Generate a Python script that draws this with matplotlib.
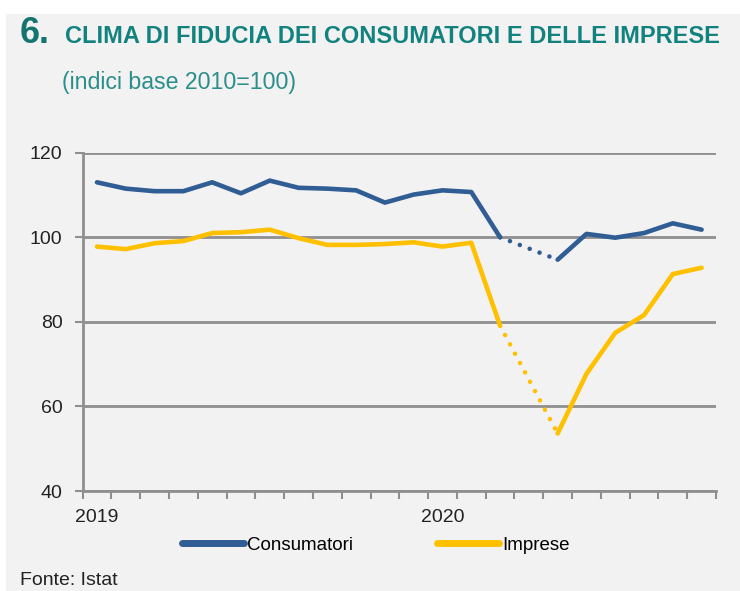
import numpy as np
import matplotlib
matplotlib.use("Agg")
import matplotlib.pyplot as plt
from matplotlib import font_manager
from matplotlib.patches import Rectangle
from matplotlib.lines import Line2D

# === DATA ===
months = ['gen 19', 'feb 19', 'mar 19', 'apr 19', 'mag 19', 'giu 19', 'lug 19', 'ago 19',
          'set 19', 'ott 19', 'nov 19', 'dic 19', 'gen 20', 'feb 20', 'mar 20', 'apr 20',
          'mag 20', 'giu 20', 'lug 20', 'ago 20', 'set 20', 'ott 20']
consumatori = [113.0, 111.5, 110.9, 110.9, 113.0, 110.4, 113.4, 111.7, 111.5, 111.1, 108.2,
               110.1, 111.1, 110.7, 100.0, np.nan, 94.7, 100.8, 99.9, 101.0, 103.3, 101.8]
imprese = [97.8, 97.2, 98.6, 99.1, 101.0, 101.2, 101.8, 99.8, 98.2, 98.2, 98.4,
           98.8, 97.8, 98.7, 79.1, np.nan, 53.6, 67.7, 77.4, 81.6, 91.3, 92.8]
year_labels = ['2019', '2020']
year_pos = [0, 12]
y_ticks = [40, 60, 80, 100, 120]

# colours
BLUE = '#305d94'
YELLOW = '#ffc000'
GRID = '#8f8f8f'
TEAL = '#12827f'
BG = '#f2f2f2'

# narrow font if we have one
names = {f.name for f in font_manager.fontManager.ttflist}
if 'Liberation Sans Narrow' in names:
    FONT = 'Liberation Sans Narrow'
else:
    FONT = 'Liberation Sans'
plt.rcParams['font.family'] = [FONT, 'DejaVu Sans']

W, H = 740, 591
fig = plt.figure(figsize=(W / 100, H / 100), dpi=100, facecolor='white')
fig.patches.append(Rectangle((6 / W, 0), 1 - 6 / W, 1 - 14 / H, transform=fig.transFigure,
                             facecolor=BG, edgecolor='none', zorder=-10))

ax = fig.add_axes([82.6 / W, 100 / H, (716 - 82.6) / W, (491 - 152.7) / H])
ax.set_facecolor(BG)

x = np.arange(len(months)) + 0.5
cons = np.array(consumatori)
imp = np.array(imprese)

# dotted bridge over the missing month (april 2020)
gap = np.where(np.isnan(cons))[0][0]
for series, col in [(cons, BLUE), (imp, YELLOW)]:
    ax.plot(x, series, color=col, lw=3.3, solid_joinstyle='round', solid_capstyle='round', zorder=3)
    ax.plot([x[gap - 1], x[gap + 1]], [series[gap - 1], series[gap + 1]], color=col, lw=3.3,
            linestyle=(0, (0.01, 2.3)), dash_capstyle='round', zorder=3)

ax.set_xlim(0, len(months))
ax.set_ylim(40, 120)
ax.set_yticks(y_ticks)
ax.set_yticklabels([str(v) for v in y_ticks], fontsize=14, color='#222222')
ax.yaxis.grid(True, color=GRID, lw=2)
ax.set_axisbelow(True)
ax.tick_params(axis='y', length=6, width=1.5, color=GRID, pad=8.5)

ax.set_xticks(np.arange(len(months) + 1))
ax.set_xticklabels([])
ax.tick_params(axis='x', which='major', length=6, width=1.5, color=GRID, direction='out')
ax.set_xticks([p + 0.5 for p in year_pos], minor=True)
ax.set_xticklabels(year_labels, minor=True, fontsize=14, color='#222222')
ax.tick_params(axis='x', which='minor', length=0, pad=13)

for s in ['top', 'right']:
    ax.spines[s].set_visible(False)
for s in ['left', 'bottom']:
    ax.spines[s].set_color(GRID)
    ax.spines[s].set_linewidth(2)


def fit(txt, width_px):
    # scale font so the text spans the given width
    r = fig.canvas.get_renderer()
    w = txt.get_window_extent(renderer=r).width
    txt.set_fontsize(txt.get_fontsize() * width_px / w)


t0 = fig.text(20 / W, 1 - 43 / H, '6.', fontsize=20, fontweight='bold', color='#157370',
              family='Liberation Sans')
fit(t0, 30)
t1 = fig.text(65 / W, 1 - 43 / H, 'CLIMA DI FIDUCIA DEI CONSUMATORI E DELLE IMPRESE',
              fontsize=18, fontweight='bold', color=TEAL)
fit(t1, 653)
t2 = fig.text(62 / W, 1 - 89 / H, '(indici base 2010=100)', fontsize=17, color='#2a8e8a')
fit(t2, 235)

handles = [Line2D([], [], color=BLUE, lw=5, solid_capstyle='round'),
           Line2D([], [], color=YELLOW, lw=5, solid_capstyle='round')]
fig.legend(handles, ['Consumatori', 'Imprese'], loc='center', bbox_to_anchor=(376 / W, 46 / H),
           ncol=2, frameon=False, fontsize=13.5, handlelength=3.3, handletextpad=0.15,
           columnspacing=4.5)

fig.text(20 / W, 1 - 585 / H, 'Fonte: Istat', fontsize=14, color='#222222')

fig.savefig('out.png', dpi=100, facecolor='white')
